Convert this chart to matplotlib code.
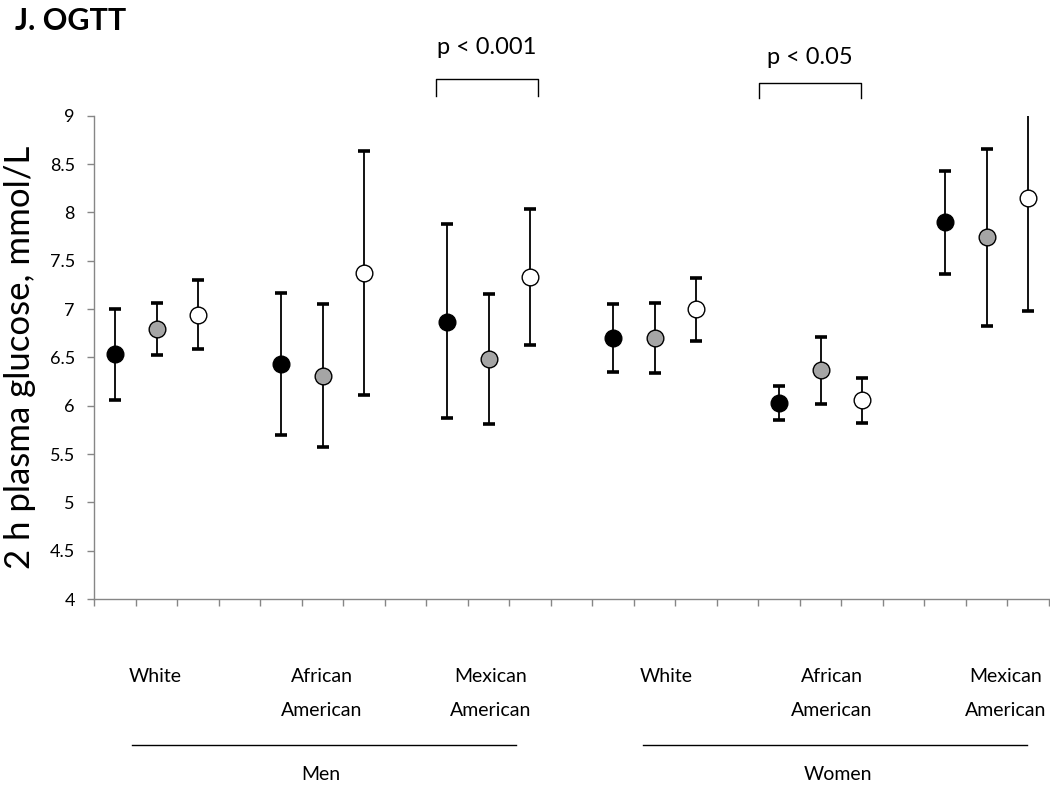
import matplotlib
matplotlib.use("Agg")
import matplotlib.pyplot as plt
from matplotlib.lines import Line2D
import numpy as np

plt.rcParams['font.family'] = ['Lato', 'DejaVu Sans']

# ---- data ----
groups = ["Men White", "Men African American", "Men Mexican American",
          "Women White", "Women African American", "Women Mexican American"]
series_names = ["black", "grey", "white"]

mean_black = [6.53, 6.43, 6.87, 6.70, 6.03, 7.90]
low_black = [6.06, 5.70, 5.87, 6.35, 5.85, 7.36]
up_black = [7.00, 7.17, 7.88, 7.05, 6.20, 8.43]

mean_grey = [6.79, 6.31, 6.48, 6.70, 6.37, 7.74]
low_grey = [6.52, 5.57, 5.81, 6.34, 6.02, 6.82]
up_grey = [7.06, 7.05, 7.16, 7.06, 6.71, 8.66]

mean_white = [6.94, 7.37, 7.33, 7.00, 6.06, 8.15]
low_white = [6.59, 6.11, 6.63, 6.67, 5.82, 6.98]
up_white = [7.30, 8.63, 8.03, 7.32, 6.29, 9.32]

yticks = [4, 4.5, 5, 5.5, 6, 6.5, 7, 7.5, 8, 8.5, 9]
ytick_labels = ["4", "4.5", "5", "5.5", "6", "6.5", "7", "7.5", "8", "8.5", "9"]

group_labels = ["White", "African\nAmerican", "Mexican\nAmerican",
                "White", "African\nAmerican", "Mexican\nAmerican"]
sex_labels = ["Men", "Women"]
p_labels = ["p < 0.001", "p < 0.05"]

# ---- figure ----
W, H = 1050, 786
fig = plt.figure(figsize=(W / 100, H / 100), dpi=100)
ax = fig.add_axes([94.3 / W, 1 - 599 / H, (1049 - 94.3) / W, (599 - 115.7) / H])

fills = ["#000000", "#a5a5a5", "#ffffff"]
all_series = [(mean_black, low_black, up_black),
              (mean_grey, low_grey, up_grey),
              (mean_white, low_white, up_white)]

for k, ((m, lo, up), fc) in enumerate(zip(all_series, fills)):
    x = np.arange(len(groups)) * 4 + k + 1
    m = np.array(m); lo = np.array(lo); up = np.array(up)
    ax.errorbar(x, m, yerr=[m - lo, up - m], fmt="none", ecolor="black",
                elinewidth=1.3, capsize=4.3, capthick=2.6, zorder=2)
    ax.plot(x, m, "o", markersize=12, markerfacecolor=fc,
            markeredgecolor="black", markeredgewidth=1.0, linestyle="none",
            zorder=3)

ax.set_xlim(0.5, 23.5)
ax.set_ylim(4, 9)
ax.set_xticks(np.arange(0.5, 24, 1))
ax.set_xticklabels([])
ax.set_yticks(yticks)
ax.set_yticklabels(ytick_labels, fontsize=13)

for s in ["top", "right"]:
    ax.spines[s].set_visible(False)
for s in ["left", "bottom"]:
    ax.spines[s].set_color("#868686")
    ax.spines[s].set_linewidth(1.0)
ax.tick_params(axis="both", direction="out", length=5, width=1,
               color="#868686", labelcolor="black")
ax.tick_params(axis="y", pad=9)

ax.set_ylabel("2 h plasma glucose, mmol/L", fontsize=25, labelpad=10)

# title
fig.text(15 / W, 1 - 21 / H, "J. OGTT", fontsize=22, fontweight="bold",
         ha="left", va="center")

# group labels under axis
label_x = [155, 322, 491, 666, 832, 1006]
for lx, lab in zip(label_x, group_labels):
    fig.text(lx / W, 1 - 668 / H, lab, fontsize=14, ha="center", va="top",
             linespacing=2.2)

# sex lines and labels
sex_lines = [(132, 516), (643, 1027)]
sex_x = [321, 838]
for (x0, x1), sx, lab in zip(sex_lines, sex_x, sex_labels):
    fig.add_artist(Line2D([x0 / W, x1 / W], [1 - 745 / H, 1 - 745 / H],
                          color="black", linewidth=1.0))
    fig.text(sx / W, 1 - 775 / H, lab, fontsize=14, ha="center", va="center")

# p-value brackets
brackets = [(436, 538, 79, 96, 47), (759, 861, 83, 98, 57)]
for (x0, x1, yt, yb, ytxt), lab in zip(brackets, p_labels):
    fig.add_artist(Line2D([x0 / W, x0 / W, x1 / W, x1 / W],
                          [1 - yb / H, 1 - yt / H, 1 - yt / H, 1 - yb / H],
                          color="black", linewidth=1.0))
    fig.text((x0 + x1) / 2 / W, 1 - ytxt / H, lab, fontsize=17,
             ha="center", va="center")

fig.savefig("out.png", dpi=100)
